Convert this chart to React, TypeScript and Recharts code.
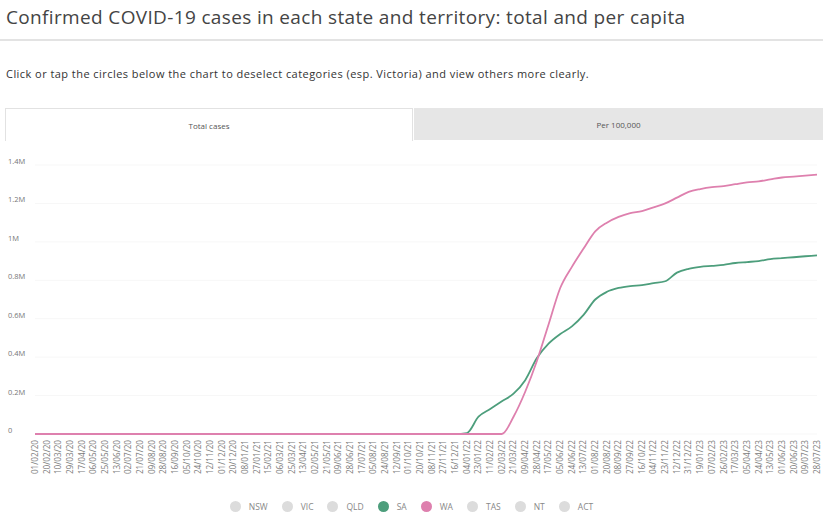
import React from 'react';
import { LineChart, Line, XAxis, YAxis, CartesianGrid } from 'recharts';

// tick dates, 19 days apart
const dates = [
  '01/02/20', '20/02/20', '10/03/20', '29/03/20', '17/04/20', '06/05/20', '25/05/20', '13/06/20', '02/07/20', '21/07/20',
  '09/08/20', '28/08/20', '16/09/20', '05/10/20', '24/10/20', '12/11/20', '01/12/20', '20/12/20',
  '08/01/21', '27/01/21', '15/02/21', '06/03/21', '25/03/21', '13/04/21', '02/05/21', '21/05/21', '09/06/21', '28/06/21',
  '17/07/21', '05/08/21', '24/08/21', '12/09/21', '01/10/21', '20/10/21', '08/11/21', '27/11/21', '16/12/21',
  '04/01/22', '23/01/22', '11/02/22', '02/03/22', '21/03/22', '09/04/22', '28/04/22', '17/05/22', '05/06/22', '24/06/22',
  '13/07/22', '01/08/22', '20/08/22', '08/09/22', '27/09/22', '16/10/22', '04/11/22', '23/11/22', '12/12/22', '31/12/22',
  '19/01/23', '07/02/23', '26/02/23', '17/03/23', '05/04/23', '24/04/23', '13/05/23', '01/06/23', '20/06/23', '09/07/23', '28/07/23',
];

const saCases = [
  0, 0, 0, 0, 0, 0, 0, 0, 0, 0, 0, 0, 0, 0, 0, 0, 0, 0,
  0, 0, 0, 0, 0, 0, 0, 0, 0, 0, 0, 0, 0, 0, 0, 0, 0, 0, 0,
  5000, 90000, 130000, 170000, 210000, 280000, 395000, 470000, 520000, 560000,
  620000, 700000, 740000, 760000, 770000, 775000, 785000, 795000, 840000, 860000,
  870000, 875000, 880000, 890000, 895000, 900000, 910000, 915000, 920000, 925000, 930000,
];

const waCases = [
  0, 0, 0, 0, 0, 0, 0, 0, 0, 0, 0, 0, 0, 0, 0, 0, 0, 0,
  0, 0, 0, 0, 0, 0, 0, 0, 0, 0, 0, 0, 0, 0, 0, 0, 0, 0, 0,
  0, 0, 0, 0, 90000, 220000, 380000, 570000, 760000, 870000,
  965000, 1055000, 1100000, 1130000, 1150000, 1160000, 1180000, 1200000, 1230000, 1260000,
  1275000, 1285000, 1290000, 1300000, 1310000, 1315000, 1325000, 1335000, 1340000, 1345000, 1350000,
];

const yTicks = [0, 200000, 400000, 600000, 800000, 1000000, 1200000, 1400000];

const states = ['NSW', 'VIC', 'QLD', 'SA', 'WA', 'TAS', 'NT', 'ACT'];
const stateColors: Record<string, string> = { SA: '#4d9e7c', WA: '#de80ae' };

const data = dates.map((d, i) => ({ date: d, SA: saCases[i], WA: waCases[i] }));

const font = '"Open Sans", "Noto Sans", sans-serif';

const fmtM = (v: number) => (v === 0 ? '0' : `${+(v / 1000000).toFixed(1)}M`);

const YTick = (props: any) => {
  const { y, payload } = props;
  return (
    <text x={8} y={y - 1} textAnchor="start" fontSize={7.5} fill="#777" fontFamily={font}>
      {fmtM(payload.value)}
    </text>
  );
};

const XTick = (props: any) => {
  const { x, y, payload } = props;
  return (
    <g transform={`translate(${x},${y - 2})`}>
      <text transform="rotate(-90)" textAnchor="end" dy="0.35em" fontSize={8.2} fill="#7a7a7a" fontFamily={font}>
        {payload.value}
      </text>
    </g>
  );
};

export default function App() {
  return (
    <div style={{ position: 'fixed', left: 0, top: 0, width: 823, height: 515, overflow: 'hidden', background: '#fff', fontFamily: font }}>
      <div style={{ position: 'absolute', left: 6, top: 4, fontSize: 19, letterSpacing: 0.35, color: '#444', whiteSpace: 'nowrap' }}>
        Confirmed COVID-19 cases in each state and territory: total and per capita
      </div>
      <div style={{ position: 'absolute', left: 0, top: 39, width: 823, height: 2, background: '#e3e3e3' }} />
      <div style={{ position: 'absolute', left: 6, top: 66, fontSize: 11, letterSpacing: 0.45, color: '#333', whiteSpace: 'nowrap' }}>
        Click or tap the circles below the chart to deselect categories (esp. Victoria) and view others more clearly.
      </div>

      {/* tabs */}
      <div style={{ position: 'absolute', left: 5, top: 108, width: 408, height: 33, border: '1px solid #e2e2e2', borderBottom: 'none', boxSizing: 'border-box', display: 'flex', alignItems: 'center', justifyContent: 'center', fontSize: 8, color: '#555' }}>
        Total cases
      </div>
      <div style={{ position: 'absolute', left: 414, top: 108, width: 409, height: 32, background: '#e6e6e6', display: 'flex', alignItems: 'center', justifyContent: 'center', fontSize: 8, color: '#555' }}>
        Per 100,000
      </div>

      <div style={{ position: 'absolute', left: 0, top: 150 }}>
        <LineChart width={823} height={340} data={data} margin={{ top: 15, right: 6, left: 0, bottom: 10 }}>
          <CartesianGrid vertical={false} stroke="#f7f7f7" />
          <YAxis
            type="number"
            domain={[0, 1400000]}
            ticks={yTicks}
            width={35}
            axisLine={false}
            tickLine={false}
            tick={<YTick />}
            interval={0}
          />
          <XAxis
            dataKey="date"
            interval={0}
            height={46}
            axisLine={false}
            tickLine={false}
            tick={<XTick />}
          />
          <Line type="monotone" dataKey="SA" stroke={stateColors.SA} strokeWidth={1.8} dot={false} isAnimationActive={false} />
          <Line type="monotone" dataKey="WA" stroke={stateColors.WA} strokeWidth={1.8} dot={false} isAnimationActive={false} />
        </LineChart>
      </div>

      {/* legend */}
      <div style={{ position: 'absolute', left: 0, top: 501, width: 823, display: 'flex', justifyContent: 'center', alignItems: 'center', gap: 14, fontSize: 8.5, color: '#888' }}>
        {states.map((s) => (
          <div key={s} style={{ display: 'flex', alignItems: 'center' }}>
            <span style={{ display: 'inline-block', width: 11, height: 11, borderRadius: '50%', background: stateColors[s] || '#dcdcdc', marginRight: 8 }} />
            <span>{s}</span>
          </div>
        ))}
      </div>
    </div>
  );
}
